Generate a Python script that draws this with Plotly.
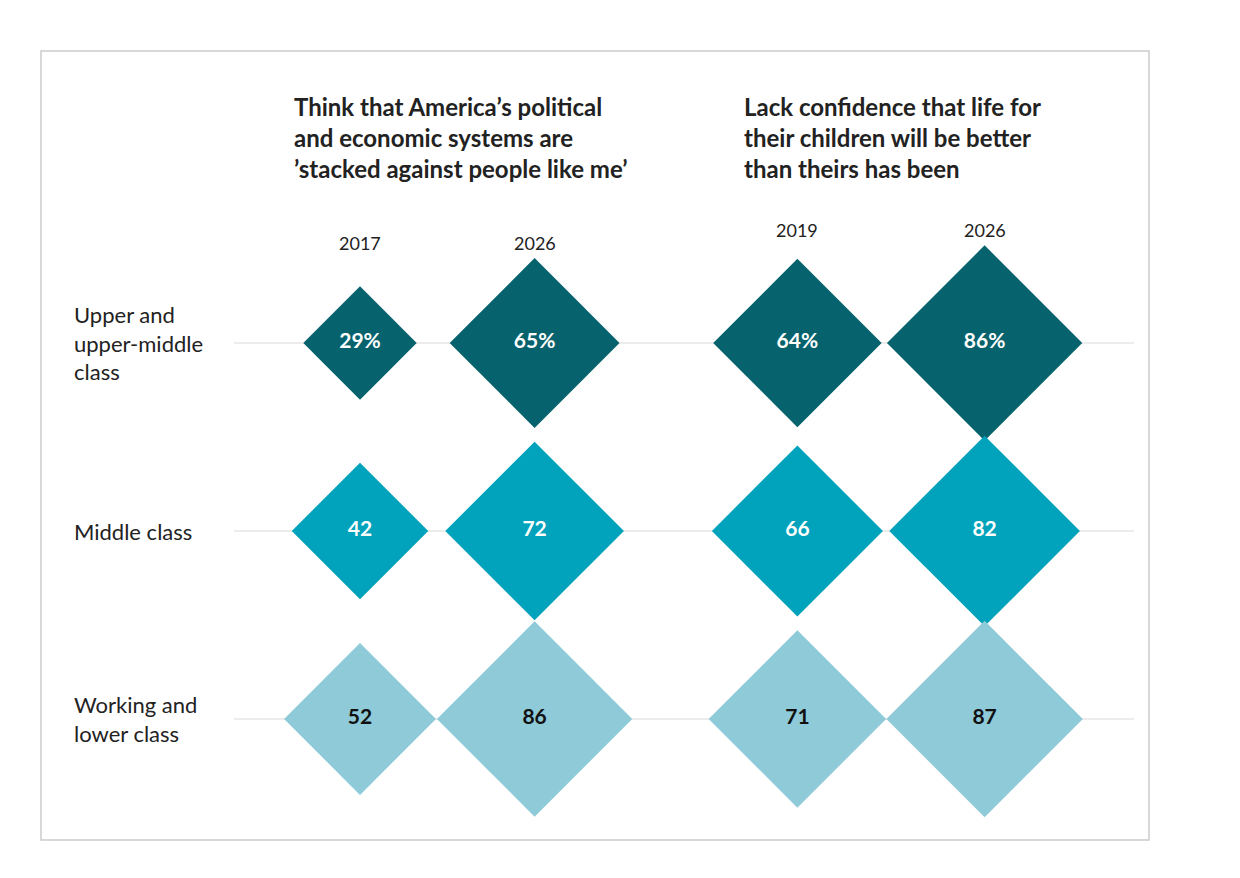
import plotly.graph_objects as go

# Data
classes = ["Upper and<br>upper-middle<br>class", "Middle class", "Working and<br>lower class"]
columns = ["2017", "2026", "2019", "2026 "]
col_pos = [0, 0.97, 2.43, 3.47]
values = [
    [29, 65, 64, 86],
    [42, 72, 66, 82],
    [52, 86, 71, 87],
]
labels = [
    ["29%", "65%", "64%", "86%"],
    ["42", "72", "66", "82"],
    ["52", "86", "71", "87"],
]
row_colors = ["#06626c", "#00a3bb", "#8ecad8"]
text_colors = ["white", "white", "#111111"]
titles = [
    "Think that America’s political<br>and economic systems are<br>’stacked against people like me’",
    "Lack confidence that life for<br>their children will be better<br>than theirs has been",
]

FONT = "Lato, 'Open Sans', sans-serif"
fig = go.Figure()

# row guide lines
for r in range(len(classes)):
    fig.add_trace(go.Scatter(x=[-0.7, 4.3], y=[r, r], mode="lines",
                             line=dict(color="#e6e6e6", width=1.5),
                             hoverinfo="skip", showlegend=False))

for r in range(len(classes)):
    fig.add_trace(go.Scatter(
        x=col_pos, y=[r] * len(col_pos), mode="markers+text",
        marker=dict(symbol="diamond", color=row_colors[r], opacity=1,
                    size=[16.2 * v ** 0.5 for v in values[r]], line=dict(width=0)),
        text=["<b>" + t + "</b>" for t in labels[r]], textposition="middle center",
        textfont=dict(family=FONT, size=21, color=text_colors[r]),
        hoverinfo="skip", showlegend=False))

annotations = []
for r, c in enumerate(classes):
    annotations.append(dict(x=-1.6, y=r, text=c, xanchor="left", showarrow=False,
                            align="left", font=dict(family=FONT, size=22, color="#222")))
year_y = [-0.53, -0.53, -0.6, -0.6]
for i, yr in enumerate(columns):
    annotations.append(dict(x=col_pos[i], y=year_y[i], text=yr.strip(), showarrow=False,
                            font=dict(family=FONT, size=18, color="#222")))
for i, t in enumerate(titles):
    annotations.append(dict(x=[-0.38, 2.12][i], y=-0.84, text="<b>" + t + "</b>",
                            xanchor="left", yanchor="bottom", align="left", showarrow=False,
                            font=dict(family=FONT, size=24, color="#222")))

W, H = 1224, 862
fig.update_layout(
    width=W, height=H, margin=dict(l=0, r=0, t=0, b=0),
    paper_bgcolor="white", plot_bgcolor="white",
    xaxis=dict(range=[-352 / 180, (W - 352) / 180], visible=False, fixedrange=True),
    yaxis=dict(range=[(H - 335) / 188, -335 / 188], visible=False, fixedrange=True),
    annotations=annotations,
    shapes=[dict(type="rect", xref="paper", yref="paper",
                 x0=33 / W, x1=1141 / W, y0=1 - 832 / H, y1=1 - 43 / H,
                 line=dict(color="#cccccc", width=1.5), layer="below")],
)

fig.write_html("out.html")
